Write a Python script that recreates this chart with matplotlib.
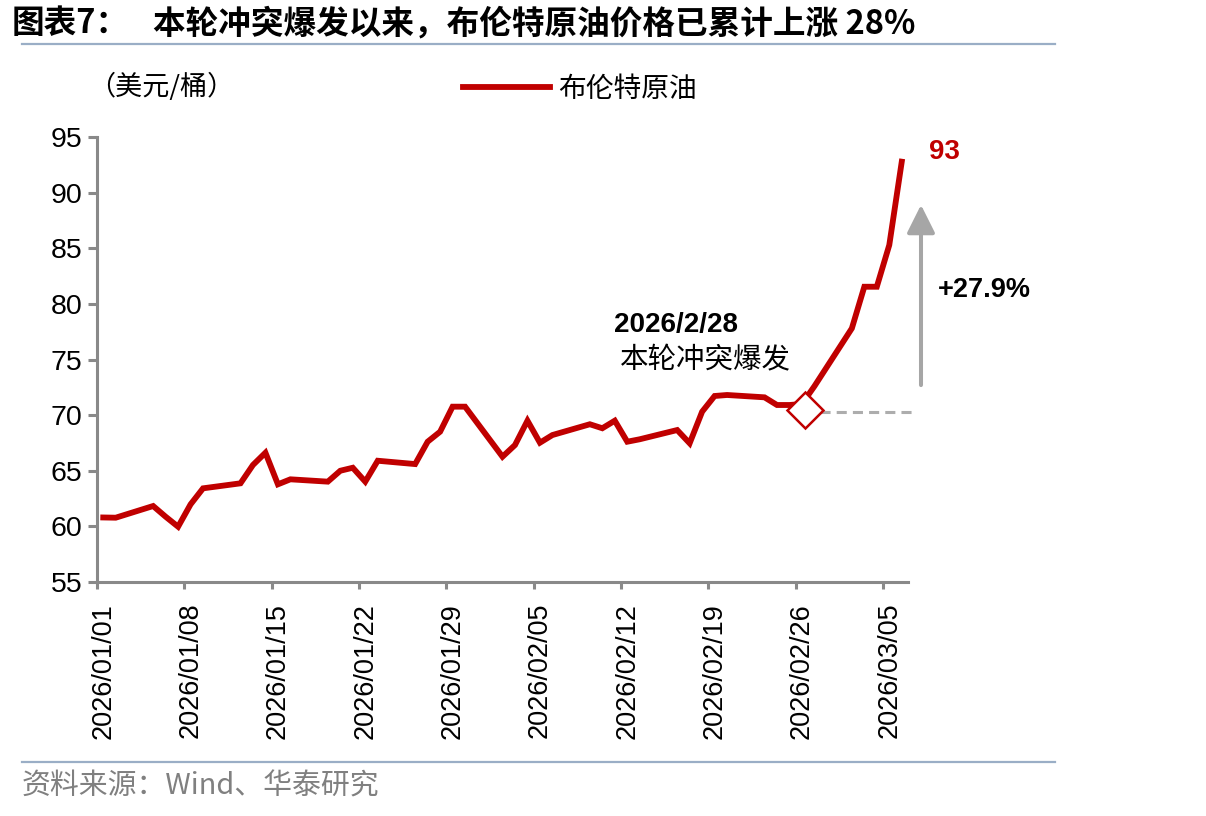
import matplotlib
matplotlib.use('Agg')
import matplotlib.pyplot as plt
import matplotlib.dates as mdates
from matplotlib.lines import Line2D
import pandas as pd

# ---------------- data ----------------
dates = ['2026-01-01', '2026-01-02', '2026-01-05', '2026-01-06', '2026-01-07', '2026-01-08',
         '2026-01-09', '2026-01-12', '2026-01-13', '2026-01-14', '2026-01-15', '2026-01-16',
         '2026-01-19', '2026-01-20', '2026-01-21', '2026-01-22', '2026-01-23', '2026-01-26',
         '2026-01-27', '2026-01-28', '2026-01-29', '2026-01-30',
         '2026-02-02', '2026-02-03', '2026-02-04', '2026-02-05', '2026-02-06', '2026-02-09',
         '2026-02-10', '2026-02-11', '2026-02-12', '2026-02-13', '2026-02-16', '2026-02-17',
         '2026-02-18', '2026-02-19', '2026-02-20', '2026-02-23', '2026-02-24', '2026-02-25',
         '2026-02-26', '2026-02-27',
         '2026-03-02', '2026-03-03', '2026-03-04', '2026-03-05', '2026-03-06']
brent = [60.80, 60.78, 61.83, 60.87, 59.97, 61.98,
         63.42, 63.87, 65.52, 66.62, 63.78, 64.23,
         64.02, 65.00, 65.27, 64.02, 65.90, 65.60,
         67.61, 68.51, 70.76, 70.76,
         66.26, 67.31, 69.50, 67.52, 68.21, 69.18,
         68.82, 69.50, 67.61, 67.83, 68.66, 67.47,
         70.31, 71.72, 71.81, 71.60, 70.91, 70.91,
         71.00, 72.60,
         77.80, 81.54, 81.54, 85.29, 92.78]
series_name = '布伦特原油'
unit_label = '（美元/桶）'
y_ticks = [55, 60, 65, 70, 75, 80, 85, 90, 95]
tick_start, tick_end = '2026-01-01', '2026-03-05'
x_min, x_max = '2026-01-01', '2026-03-07'

title_head = '图表7：'
title_body = '本轮冲突爆发以来，布伦特原油价格已累计上涨 28%'
source_text = '资料来源：Wind、华泰研究'
event_date_text = '2026/2/28'
event_text = '本轮冲突爆发'
change_text = '+27.9%'

# annotation anchors (data coordinates)
event_marker = (pd.Timestamp('2026-02-26 18:00'), 70.45)
base_line = ([pd.Timestamp('2026-02-27 23:00'), pd.Timestamp('2026-03-07 17:30')], [70.25, 70.25])
arrow_x = pd.Timestamp('2026-03-08 01:00')
arrow_y = (72.7, 88.9)
change_pos = (pd.Timestamp('2026-03-13 02:00'), 81.25)
event_date_pos = (pd.Timestamp('2026-02-16 10:00'), 78.1)
event_text_pos = (pd.Timestamp('2026-02-18 18:00'), 74.95)

RED = '#C00000'
GREY_AX = '#898989'
LINE_BLUE = '#9AAEC6'
LATIN = ['Liberation Sans', 'DejaVu Sans']
CJK = ['Noto Sans CJK SC', 'DejaVu Sans']

plt.rcParams['font.family'] = LATIN

fig = plt.figure(figsize=(12.06, 8.16), dpi=100)
ax = fig.add_axes([97 / 1206, 1 - 582 / 816, (908 - 97) / 1206, (582 - 137) / 816])

half_day = pd.Timedelta(hours=12)
x = pd.to_datetime(dates) + half_day
ax.plot(x, brent, color=RED, lw=4.2, solid_joinstyle='miter', zorder=3, label=series_name)

ax.set_ylim(y_ticks[0], y_ticks[-1])
ax.set_yticks(y_ticks)
ax.set_xlim(pd.Timestamp(x_min), pd.Timestamp(x_max))
tick_dates = pd.date_range(tick_start, tick_end, freq='7D')
ax.set_xticks(tick_dates)
ax.set_xticklabels([])
ax.set_xticks(tick_dates + half_day, minor=True)
ax.set_xticklabels([d.strftime('%Y/%m/%d') for d in tick_dates], minor=True,
                   rotation=90, fontsize=19.5)

for s in ['top', 'right']:
    ax.spines[s].set_visible(False)
for s in ['left', 'bottom']:
    ax.spines[s].set_color(GREY_AX)
    ax.spines[s].set_linewidth(2.2)
ax.tick_params(axis='both', colors=GREY_AX, width=2.2, labelcolor='black', labelsize=20.5)
ax.tick_params(axis='y', length=6.5, pad=4)
ax.tick_params(axis='x', which='major', length=5.3, pad=8)
ax.tick_params(axis='x', which='minor', length=0, pad=15, labelsize=19.5)

# event marker & baseline
ax.plot([event_marker[0]], [event_marker[1]], marker='D', ms=18.3, mfc='white', mec=RED,
        mew=1.8, clip_on=False, zorder=5, linestyle='none')
ax.plot(base_line[0], base_line[1], color='#ADADAD', lw=2.2, linestyle=(0, (3.3, 2.0)),
        clip_on=False, zorder=2)
ax.annotate('', xy=(arrow_x, arrow_y[1]), xytext=(arrow_x, arrow_y[0]),
            arrowprops=dict(arrowstyle='-|>,head_length=0.86,head_width=0.43', mutation_scale=20,
                            lw=2.9, color='#A6A6A6', shrinkA=0, shrinkB=0),
            annotation_clip=False)
ax.text(change_pos[0], change_pos[1], change_text, fontsize=19.5, fontweight='bold',
        ha='center', va='center', color='black')
ax.annotate(f'{round(brent[-1])}', xy=(x[-1], brent[-1]), xytext=(30.7, 7),
            textcoords='offset points', fontsize=20, fontweight='bold', color=RED,
            ha='center', va='center', annotation_clip=False)
ax.text(event_date_pos[0], event_date_pos[1], event_date_text, fontsize=20, fontweight='bold',
        ha='center', va='center', color='black')
ax.text(event_text_pos[0], event_text_pos[1], event_text, fontsize=20.5, family=CJK,
        ha='center', va='center', color='black')

# legend
leg = ax.legend(loc='center left', bbox_to_anchor=(463 / 1206, 1 - 89 / 816),
                bbox_transform=fig.transFigure, frameon=False, borderpad=0, borderaxespad=0,
                handlelength=3.13, handletextpad=0.3, prop={'family': CJK, 'size': 20})

# unit label
fig.text(88 / 1206, 1 - 87 / 816, unit_label, fontsize=19.5, family=CJK, ha='left', va='center')

# title & lines
fig.text(12 / 1206, 1 - 24 / 816, title_head, fontsize=23.5, fontweight='bold', family=CJK,
         ha='left', va='center')
fig.text(153 / 1206, 1 - 24 / 816, title_body, fontsize=23.5, fontweight='bold', family=CJK,
         ha='left', va='center')
fig.add_artist(Line2D([22 / 1206, 1055 / 1206], [1 - 44 / 816, 1 - 44 / 816],
                      color=LINE_BLUE, lw=1.6, transform=fig.transFigure))
fig.add_artist(Line2D([22 / 1206, 1055 / 1206], [1 - 762 / 816, 1 - 762 / 816],
                      color=LINE_BLUE, lw=1.6, transform=fig.transFigure))
fig.text(22 / 1206, 1 - 787 / 816, source_text, fontsize=20.8, family=CJK, color='#808080',
         ha='left', va='center')

fig.savefig('out.png', dpi=100)
